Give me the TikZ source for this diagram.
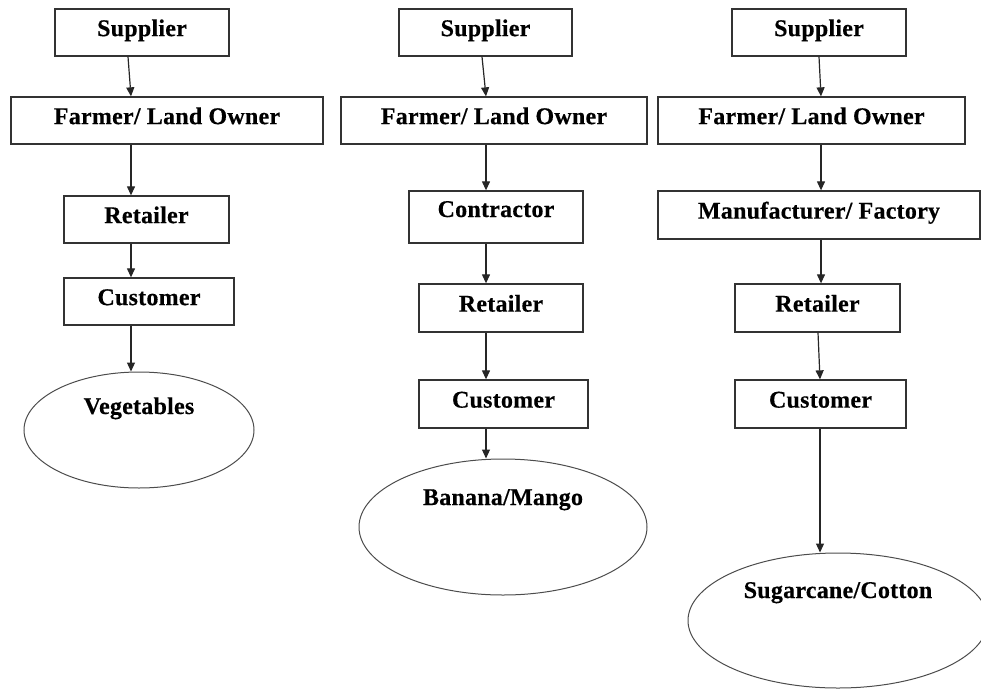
\documentclass[tikz,border=0pt]{standalone}
\usepackage{fontspec}
\setmainfont{Liberation Serif}[LetterSpace=1.0,BoldFeatures={FakeBold=0.4}]
\usetikzlibrary{shapes.geometric,arrows.meta}
\begin{document}
\begin{tikzpicture}[x=1pt,y=-1pt,
  lbl/.style={font=\bfseries\fontsize{24}{27}\selectfont},
  box/.style={lbl,draw=black!80,line width=1.3pt,rectangle,inner sep=0pt,
    minimum height=47pt,text height=12pt,text depth=4.8pt},
  oval/.style={lbl,draw=black!70,line width=1pt,ellipse,inner sep=0pt,
    text height=0pt},
  arr/.style={draw=black!85,line width=1.2pt,-{Triangle[length=9pt,width=8pt]}}
]
\useasboundingbox (0,0) rectangle (981,690);
% column 1
\node[box,minimum width=174pt] (s1) at (142,32.5) {Supplier};
\node[box,minimum width=312pt] (f1) at (167,120.5) {Farmer/ Land Owner};
\node[box,minimum width=165pt] (r1) at (146.5,219.5) {Retailer};
\node[box,minimum width=170pt] (c1) at (149,301.5) {Customer};
\node[oval,minimum width=230pt,minimum height=116pt,text depth=32pt] (e1) at (139,430) {Vegetables};
\draw[arr] ([xshift=-14pt]s1.south) -- ([xshift=-36pt]f1.north);
\draw[arr] ([xshift=-36pt]f1.south) -- ([xshift=-15.5pt]r1.north);
\draw[arr] ([xshift=-15.5pt]r1.south) -- ([xshift=-18pt]c1.north);
\draw[arr] ([xshift=-18pt]c1.south) -- ([xshift=-8pt]e1.north);
% column 2
\node[box,minimum width=173pt] (s2) at (485.5,32.5) {Supplier};
\node[box,minimum width=306pt] (f2) at (494,120.5) {Farmer/ Land Owner};
\node[box,minimum width=174pt,minimum height=52pt,text height=8pt,text depth=8pt] (ct2) at (496,217) {Contractor};
\node[box,minimum width=164pt,minimum height=48pt] (r2) at (501,308) {Retailer};
\node[box,minimum width=169pt,minimum height=48pt] (cu2) at (503.5,404) {Customer};
\node[oval,minimum width=288pt,minimum height=136pt,text depth=44pt] (e2) at (503,527) {Banana/Mango};
\draw[arr] ([xshift=-3.5pt]s2.south) -- ([xshift=-8pt]f2.north);
\draw[arr] ([xshift=-8pt]f2.south) -- ([xshift=-10pt]ct2.north);
\draw[arr] ([xshift=-10pt]ct2.south) -- ([xshift=-15pt]r2.north);
\draw[arr] ([xshift=-15pt]r2.south) -- ([xshift=-17.5pt]cu2.north);
\draw[arr] ([xshift=-17.5pt]cu2.south) -- ([xshift=-17pt]e2.north);
% column 3
\node[box,minimum width=174pt] (s3) at (819,32.5) {Supplier};
\node[box,minimum width=307pt] (f3) at (811.5,120.5) {Farmer/ Land Owner};
\node[box,minimum width=322pt,minimum height=48pt] (m3) at (819,215) {Manufacturer/ Factory};
\node[box,minimum width=165pt,minimum height=48pt] (r3) at (817.5,308) {Retailer};
\node[box,minimum width=171pt,minimum height=48pt] (cu3) at (820.5,404) {Customer};
\node[oval,minimum width=300pt,minimum height=135pt,text depth=45pt] (e3) at (838,620.5) {Sugarcane/Cotton};
\draw[arr] (s3.south) -- ([xshift=9.5pt]f3.north);
\draw[arr] ([xshift=9.5pt]f3.south) -- ([xshift=2pt]m3.north);
\draw[arr] ([xshift=2pt]m3.south) -- ([xshift=3.5pt]r3.north);
\draw[arr] ([xshift=0.5pt]r3.south) -- ([xshift=-0.5pt]cu3.north);
\draw[arr] ([xshift=-0.5pt]cu3.south) -- ([xshift=-18pt]e3.north);
\end{tikzpicture}
\end{document}
